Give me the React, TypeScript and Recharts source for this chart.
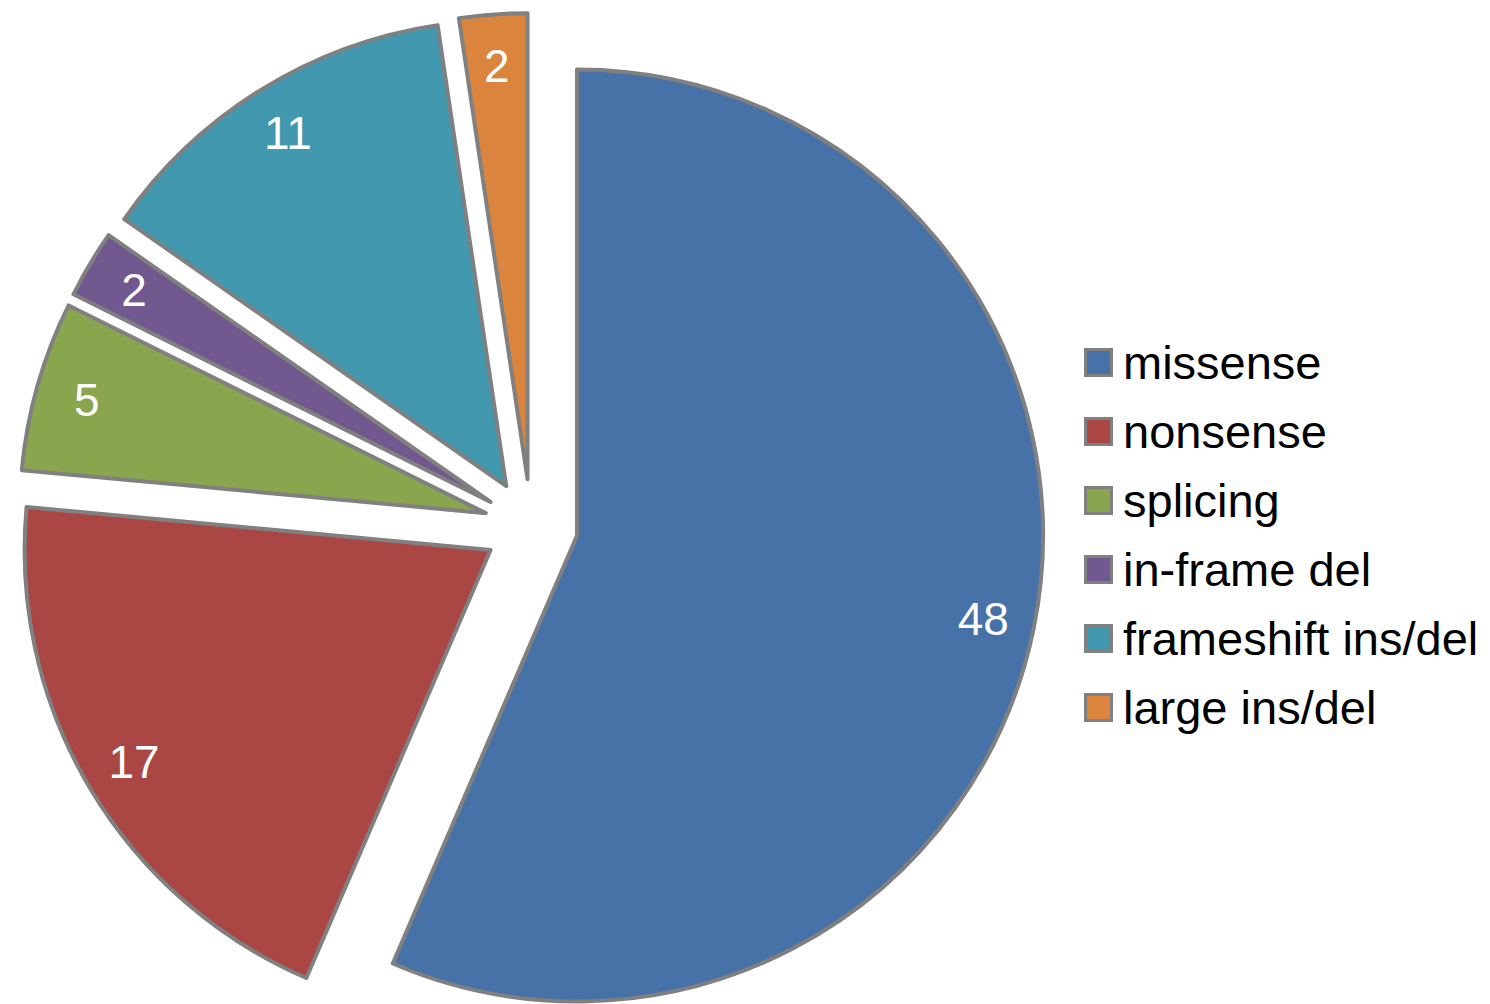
import { PieChart, Pie, Legend } from "recharts";

const categories = ["missense", "nonsense", "splicing", "in-frame del", "frameshift ins/del", "large ins/del"];
const counts = [48, 17, 5, 2, 11, 2];
const colors = ["#4672A8", "#AA4644", "#89A54E", "#71588F", "#4198AF", "#DB843D"];

const W = 1490;
const H = 1004;
const CX = 531;
const CY = 526;
const R = 466;
const EXPLODE = 47;
const FONT = "'Liberation Sans', Arial, sans-serif";

const total = counts.reduce((a, b) => a + b, 0);

// one Pie per slice so every slice can be pulled out along its own mid angle
const slices = categories.map((name, i) => {
  const before = counts.slice(0, i).reduce((a, b) => a + b, 0);
  const start = 90 - (before / total) * 360;
  const end = 90 - ((before + counts[i]) / total) * 360;
  const mid = ((start + end) / 2) * (Math.PI / 180);
  return {
    name,
    value: counts[i],
    fill: colors[i],
    start,
    end,
    cx: CX + EXPLODE * Math.cos(mid),
    cy: CY - EXPLODE * Math.sin(mid),
  };
});

const renderLabel = (props: any) => {
  const rad = (props.midAngle * Math.PI) / 180;
  const r = props.outerRadius * 0.89;
  const x = props.cx + r * Math.cos(rad);
  const y = props.cy - r * Math.sin(rad);
  return (
    <text
      x={x}
      y={y}
      fill="#ffffff"
      fontSize={46}
      fontFamily={FONT}
      textAnchor="middle"
      dominantBaseline="central"
    >
      {props.value}
    </text>
  );
};

const renderLegend = () => (
  <div style={{ fontFamily: FONT, fontSize: 47, color: "#000" }}>
    {categories.map((name, i) => (
      <div key={name} style={{ display: "flex", alignItems: "center", height: 69 }}>
        <div
          style={{
            width: 23,
            height: 23,
            background: colors[i],
            border: "3px solid #808080",
            marginRight: 10,
          }}
        />
        <span style={{ lineHeight: "69px" }}>{name}</span>
      </div>
    ))}
  </div>
);

export default function App() {
  return (
    <div style={{ position: "absolute", left: 0, top: 0, width: W, height: H, background: "#fff" }}>
      <PieChart width={W} height={H} margin={{ top: 0, right: 0, bottom: 0, left: 0 }}>
        {slices.map((s) => (
          <Pie
            key={s.name}
            data={[s]}
            dataKey="value"
            nameKey="name"
            cx={s.cx}
            cy={s.cy}
            startAngle={s.start}
            endAngle={s.end}
            innerRadius={0}
            outerRadius={R}
            fill={s.fill}
            stroke="#808080"
            strokeWidth={4}
            strokeLinejoin="round"
            paddingAngle={0}
            label={renderLabel}
            labelLine={false}
            isAnimationActive={false}
          />
        ))}
        <Legend
          layout="vertical"
          align="right"
          verticalAlign="top"
          content={renderLegend}
          wrapperStyle={{ left: 1084, top: 328, width: 406 }}
        />
      </PieChart>
    </div>
  );
}
